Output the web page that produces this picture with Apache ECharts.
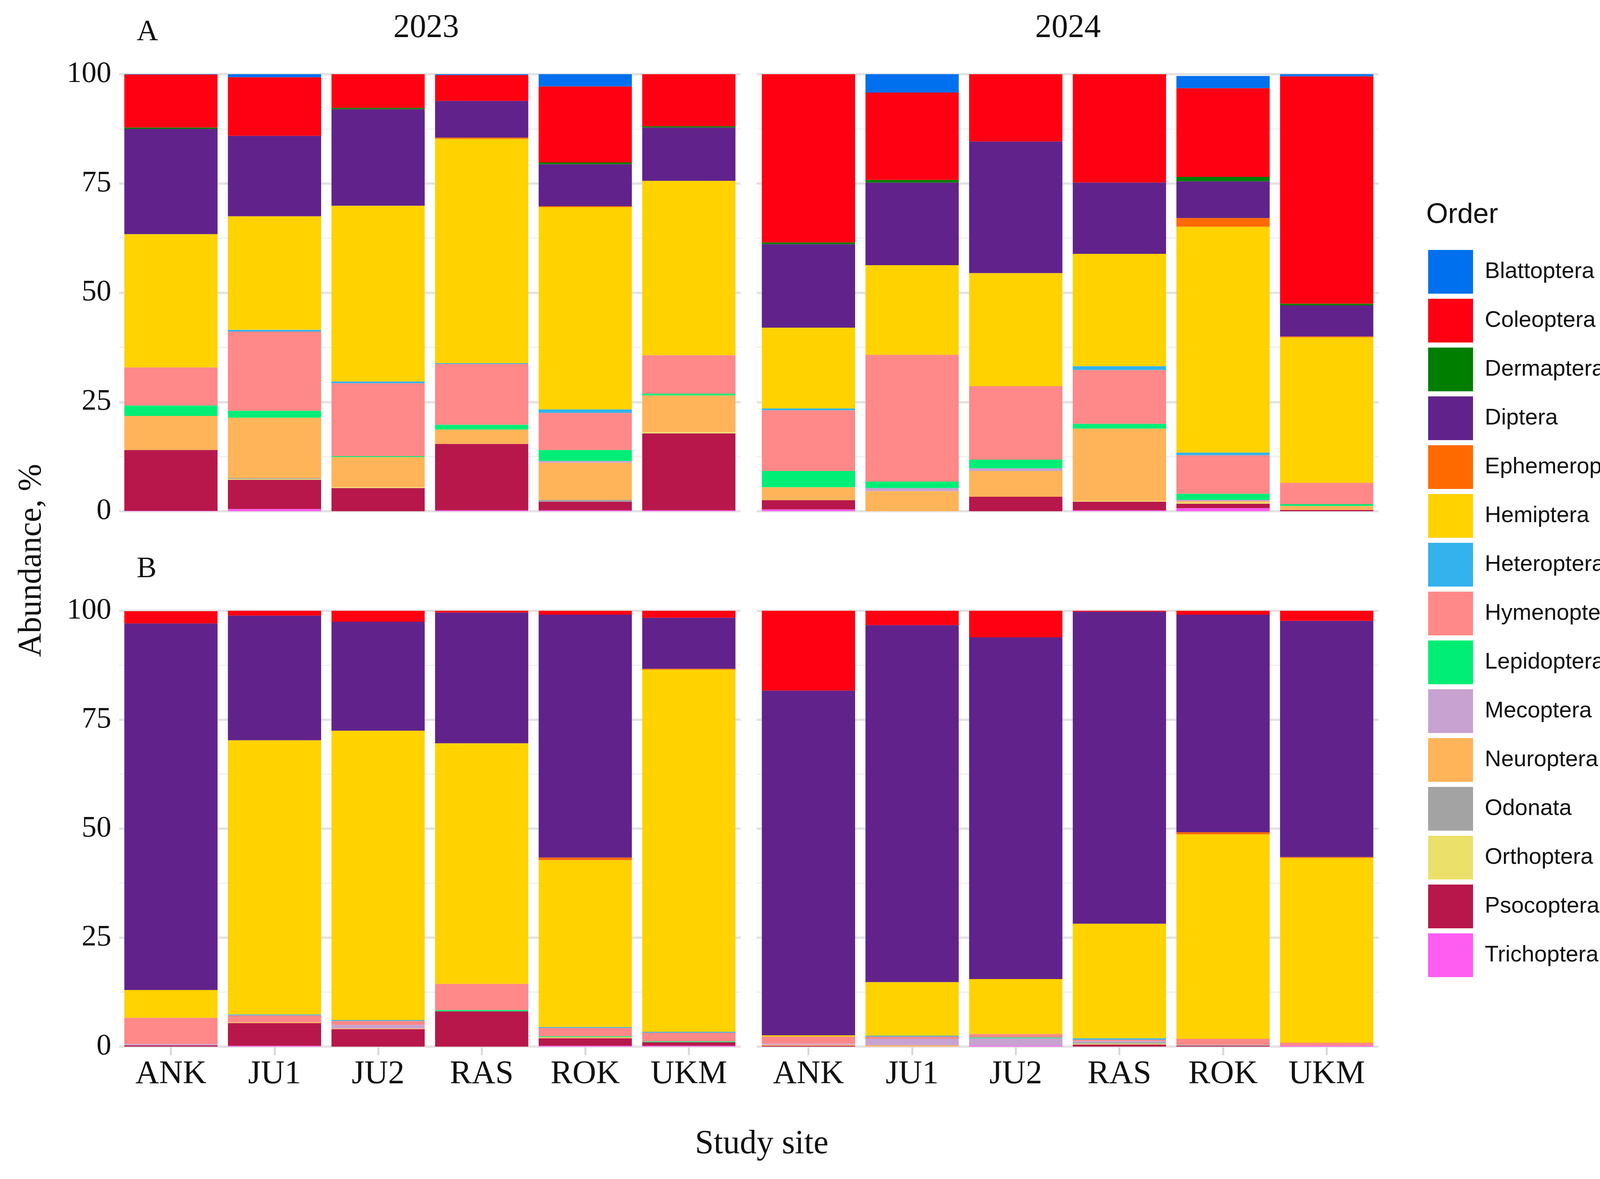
<!DOCTYPE html>
<html>
<head>
<meta charset="utf-8">
<script src="https://cdn.jsdelivr.net/npm/echarts@6/dist/echarts.min.js"></script>
<style>
html,body{margin:0;padding:0;background:#fff;}
#chart{width:4266px;height:3019px;}
</style>
</head>
<body>
<div id="chart"></div>
<script>
// sites, one block of 6 per panel: A 2023, A 2024, B 2023, B 2024
var sites = ['ANK', 'JU1', 'JU2', 'RAS', 'ROK', 'UKM'];
var yTicks = [0, 25, 50, 75, 100];

// legend order (top to bottom)
var orders = ['Blattoptera','Coleoptera','Dermaptera','Diptera','Ephemeroptera','Hemiptera','Heteroptera',
              'Hymenoptera','Lepidoptera','Mecoptera','Neuroptera','Odonata','Orthoptera','Psocoptera','Trichoptera'];

var Trichoptera   = [0.1,0.5,0,0.2,0.2,0.2,  0.4,0,0,0.2,0.7,0,  0,0.2,0,0,0.2,0.2,  0,0,0.2,0,0,0.2];
var Psocoptera    = [13.9,6.7,5.3,15.2,2.0,17.6,  2.1,0,3.3,2.0,1.0,0.3,  0.3,5.2,4.0,8.1,1.7,0.8,  0.2,0,0,0.5,0.2,0];
var Orthoptera    = [0,0.2,0.2,0,0,0.3,  0,0,0,0.2,0.3,0,  0,0,0,0,0,0,  0,0,0,0.2,0,0];
var Odonata       = [0,0.2,0,0,0.4,0,  0,0,0,0,0,0,  0,0,0,0,0,0,  0,0,0,0.3,0.2,0];
var Neuroptera    = [7.8,13.8,6.9,3.3,8.5,8.4,  3.0,4.6,5.9,16.5,0.3,0.9,  0,0.2,0.2,0,0.3,0,  0.2,0.3,0,0,0,0];
var Mecoptera     = [0,0,0,0,0.4,0,  0,0.7,0.6,0,0.3,0,  0.3,0,0.8,0,0,0,  0.3,1.5,1.7,0.3,0,0];
var Lepidoptera   = [2.4,1.6,0.2,1.1,2.5,0.4,  3.7,1.5,2.0,1.1,1.4,0.4,  0,0,0,0.3,0.2,0.2,  0,0,0.2,0,0,0];
var Hymenoptera   = [8.7,18.1,16.7,13.9,8.5,8.8,  13.9,29.0,16.8,12.3,8.8,4.9,  6.0,1.6,0.9,6.0,1.9,2.0,  1.6,0.5,0.8,0.3,1.4,0.7];
var Heteroptera   = [0,0.4,0.4,0.2,0.8,0,  0.4,0,0,0.9,0.6,0,  0,0.2,0.2,0,0.2,0.2,  0,0.2,0,0.3,0,0];
var Hemiptera     = [30.5,26.0,40.2,51.3,46.3,39.9,  18.5,20.5,25.9,25.7,51.7,33.3,  6.4,62.9,66.4,55.2,38.3,83.1,  0.3,12.3,12.6,26.3,46.9,42.4];
var Ephemeroptera = [0,0,0,0.3,0.2,0,  0,0,0,0,2.0,0.2,  0,0,0,0,0.6,0.2,  0,0,0,0,0.5,0.2];
var Diptera       = [24.1,18.4,22.1,8.4,9.6,12.2,  19.1,18.9,30.1,16.3,8.4,7.1,  84.1,28.6,25.0,30.0,55.7,11.7,  79.1,81.9,78.4,71.6,49.9,54.2];
var Dermaptera    = [0.3,0,0.3,0,0.4,0.3,  0.4,0.6,0,0,1.0,0.4,  0,0,0,0,0,0,  0,0,0,0,0,0];
var Coleoptera    = [12.1,13.4,7.7,5.9,17.4,11.9,  38.5,20.0,15.4,24.8,20.3,52.0,  2.8,1.1,2.5,0.4,0.9,1.6,  18.3,3.3,6.1,0.2,0.9,2.3];
var Blattoptera   = [0.2,0.7,0,0.2,2.8,0,  0,4.2,0,0,2.8,0.5,  0,0,0,0,0,0,  0,0,0,0,0,0];

var colors = {
    Blattoptera:'#0070EE', Coleoptera:'#FF0013', Dermaptera:'#007E00', Diptera:'#61238B',
    Ephemeroptera:'#FF6A00', Hemiptera:'#FFD200', Heteroptera:'#33B2EE', Hymenoptera:'#FF8888',
    Lepidoptera:'#00EE76', Mecoptera:'#C8A2D0', Neuroptera:'#FFB459', Odonata:'#A3A3A3',
    Orthoptera:'#EBE06A', Psocoptera:'#B8174B', Trichoptera:'#FF5CF2'
};
var values = {
    Blattoptera:Blattoptera, Coleoptera:Coleoptera, Dermaptera:Dermaptera, Diptera:Diptera,
    Ephemeroptera:Ephemeroptera, Hemiptera:Hemiptera, Heteroptera:Heteroptera, Hymenoptera:Hymenoptera,
    Lepidoptera:Lepidoptera, Mecoptera:Mecoptera, Neuroptera:Neuroptera, Odonata:Odonata,
    Orthoptera:Orthoptera, Psocoptera:Psocoptera, Trichoptera:Trichoptera
};

var serif = 'Liberation Serif';
var grids = [
    {left:305,  top:190,  width:1591, height:1119},
    {left:1937, top:190,  width:1592, height:1119},
    {left:305,  top:1564, width:1591, height:1116},
    {left:1937, top:1564, width:1592, height:1116}
];
var xAxes = [], yAxes = [], series = [];
grids.forEach(function(g, i){
    var bottomRow = i >= 2;
    xAxes.push({
        gridIndex:i, type:'category', data:sites,
        axisLine:{show:false},
        axisTick:{show:bottomRow, alignWithLabel:true, length:22, lineStyle:{color:'#d9d9d9', width:5}},
        axisLabel:{show:bottomRow, fontFamily:serif, fontSize:84, color:'#111', margin:30}
    });
    var leftCol = (i % 2) === 0;
    yAxes.push({
        gridIndex:i, type:'value', min:0, max:100, interval:25,
        axisLine:{show:false}, axisTick:{show:false},
        axisLabel:{show:leftCol, fontFamily:serif, fontSize:76, color:'#111', margin:20},
        splitLine:{lineStyle:{color:'#e3e3e3', width:6}},
        minorTick:{show:false, splitNumber:2},
        minorSplitLine:{show:true, lineStyle:{color:'#efefef', width:3}}
    });
});
// bottom of stack first
var stackOrder = orders.slice().reverse();
for (var p = 0; p < 4; p++) {
    stackOrder.forEach(function(name){
        series.push({
            name:name, type:'bar', stack:'s' + p,
            xAxisIndex:p, yAxisIndex:p,
            barCategoryGap:'10%',
            itemStyle:{color:colors[name]},
            data:values[name].slice(p * 6, p * 6 + 6)
        });
    });
}

var chart = echarts.init(document.getElementById('chart'));
chart.setOption({
    backgroundColor:'#fff',
    animation:false,
    grid:grids,
    xAxis:xAxes,
    yAxis:yAxes,
    legend:{
        data:orders, orient:'vertical', left:3651, top:635,
        icon:'rect', itemWidth:115, itemHeight:112, itemGap:13,
        textStyle:{fontFamily:'Liberation Sans', fontSize:58, color:'#111', padding:[0,0,0,25]}
    },
    graphic:[
        {type:'text', left:3651, top:515, style:{text:'Order', font:'72px "Liberation Sans"', fill:'#111'}},
        {type:'text', left:350, top:45, style:{text:'A', font:'76px "Liberation Serif"', fill:'#111'}},
        {type:'text', left:350, top:1420, style:{text:'B', font:'76px "Liberation Serif"', fill:'#111'}},
        {type:'text', x:1091, y:73, style:{text:'2023', font:'84px "Liberation Serif"', fill:'#111', align:'center', verticalAlign:'middle'}},
        {type:'text', x:2734, y:73, style:{text:'2024', font:'84px "Liberation Serif"', fill:'#111', align:'center', verticalAlign:'middle'}},
        {type:'text', x:1950, y:2930, style:{text:'Study site', font:'86px "Liberation Serif"', fill:'#111', align:'center', verticalAlign:'middle'}},
        {type:'text', x:82, y:1435, rotation:Math.PI/2, style:{text:'Abundance, %', font:'84px "Liberation Serif"', fill:'#111', align:'center', verticalAlign:'middle'}}
    ],
    series:series
});
</script>
</body>
</html>
